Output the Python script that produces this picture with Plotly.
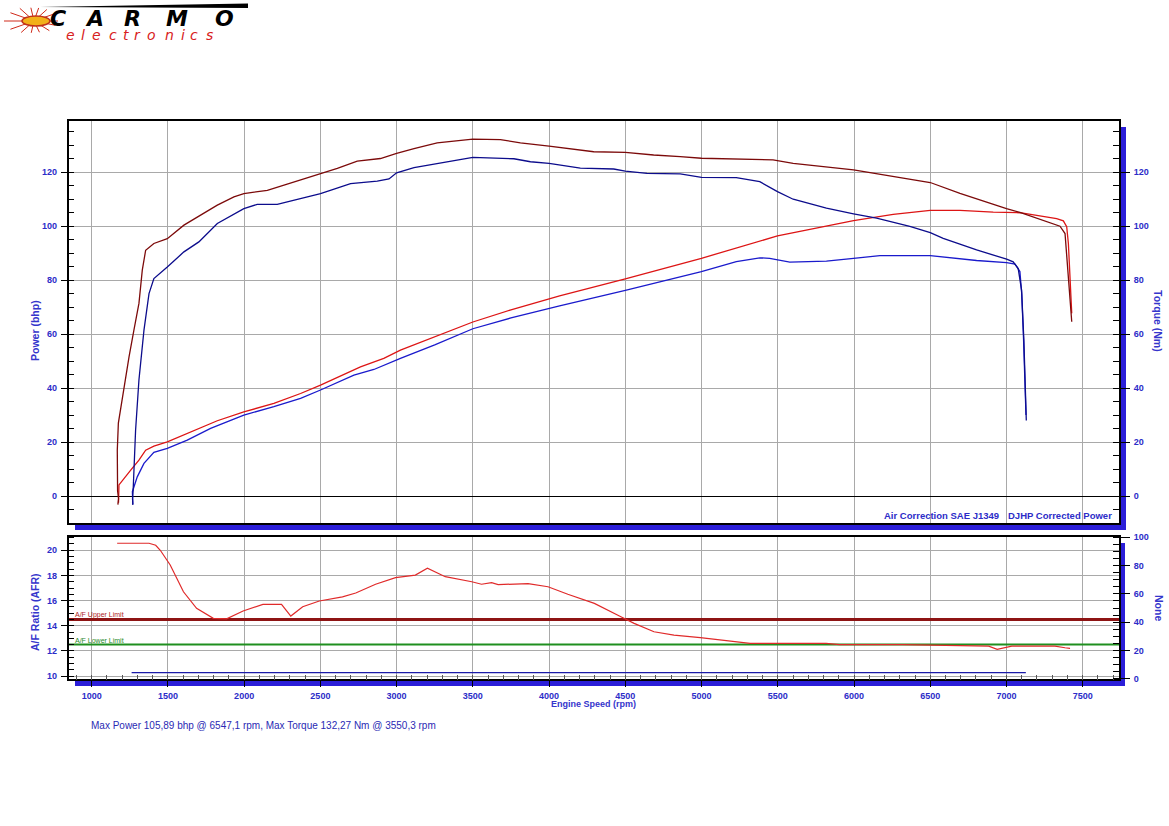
import math
import plotly.graph_objects as go

# ---------------- DATA ----------------
# Corrected torque (dark red) - rpm / Nm
rpm_torque_red = [1172, 1176, 1170, 1168, 1168, 1175, 1212, 1245, 1277, 1310, 1332, 1354, 1408, 1496, 1605,
                  1714, 1824, 1933, 1998, 2152, 2326, 2501, 2611, 2742, 2894, 3000, 3114, 3266, 3500, 3681,
                  3812, 4000, 4293, 4500, 4686, 4860, 5000, 5469, 5601, 5997, 6257, 6500, 6695, 6870, 7000,
                  7088, 7200, 7351, 7384, 7406, 7428]
torque_red = [-3.2, -1.0, 2.0, 8.0, 17.0, 27.0, 40.5, 51.6, 61.5, 71.4, 83.7, 91.1, 93.6, 95.4, 100.4,
              104.1, 107.8, 110.9, 112.1, 113.3, 116.4, 119.5, 121.4, 124.1, 125.1, 127.0, 128.8, 130.9, 132.3, 132.1,
              130.9, 129.7, 127.6, 127.4, 126.4, 125.8, 125.2, 124.6, 123.3, 120.9, 118.4, 116.2, 112.2, 108.8, 106.5,
              105.1, 103.0, 100.0, 97.3, 82.5, 64.6]

# Torque (blue)
rpm_torque_blue = [1270, 1268, 1272, 1288, 1310, 1343, 1376, 1408, 1496, 1605, 1703, 1824, 1998, 2086, 2217,
                   2326, 2501, 2698, 2873, 2950, 3000, 3114, 3332, 3500, 3769, 3878, 4000, 4205, 4424, 4500,
                   4642, 4860, 5000, 5228, 5382, 5498, 5601, 5819, 5997, 6148, 6366, 6500, 6585, 6804, 7001,
                   7044, 7077, 7099, 7114, 7125, 7130]
torque_blue = [-3.3, -1.0, 2.2, 24.4, 43.0, 61.5, 75.0, 80.6, 84.9, 90.5, 94.2, 101.0, 106.5, 108.1, 108.1,
               109.6, 112.1, 115.8, 116.7, 117.5, 119.8, 121.7, 123.9, 125.5, 125.0, 123.9, 123.3, 121.5, 121.2, 120.4,
               119.6, 119.4, 118.1, 118.0, 116.5, 112.8, 110.0, 106.7, 104.6, 103.0, 99.9, 97.6, 95.5, 91.2, 87.8,
               86.8, 84.3, 76.3, 57.8, 40.0, 28.0]

# Corrected power (red) - rpm / bhp
rpm_power_red = [1176, 1178, 1179, 1256, 1310, 1354, 1408, 1496, 1605, 1714, 1824, 1998, 2195, 2370, 2501,
                 2763, 2916, 3025, 3250, 3500, 3750, 4069, 4500, 4999, 5498, 5997, 6257, 6500, 6695, 6913,
                 7088, 7200, 7329, 7373, 7395, 7406, 7417, 7428]
power_red = [-2.5, 0.4, 4.1, 9.6, 13.3, 17.0, 18.5, 20.1, 22.6, 25.1, 27.9, 31.2, 34.3, 38.0, 41.1,
             47.9, 51.0, 54.1, 59.0, 64.5, 69.0, 74.2, 80.5, 88.1, 96.4, 102.1, 104.4, 105.9, 105.9, 105.2,
             105.0, 104.0, 102.8, 102.0, 99.8, 93.6, 82.5, 67.7]

# Power (blue)
rpm_power_blue = [1270, 1267, 1299, 1343, 1408, 1496, 1627, 1780, 1998, 2195, 2370, 2501, 2720, 2851, 3025,
                  3250, 3500, 3750, 4069, 4500, 4999, 5228, 5382, 5447, 5579, 5819, 5997, 6170, 6500, 6585,
                  6804, 7001, 7056, 7088, 7100, 7112, 7122, 7128]
power_blue = [-3.0, 1.6, 7.1, 12.1, 16.2, 17.7, 20.7, 25.1, 30.0, 33.1, 36.2, 39.3, 44.8, 46.9, 51.0,
              56.0, 62.0, 66.0, 70.5, 76.2, 83.2, 86.9, 88.3, 88.1, 86.7, 87.1, 88.1, 89.1, 89.1, 88.6,
              87.3, 86.5, 86.0, 83.2, 75.0, 58.0, 40.0, 30.0]

# Air/fuel ratio
rpm_afr = [1167, 1376, 1420, 1450, 1515, 1602, 1688, 1798, 1885, 1993, 2123, 2245, 2306, 2384, 2493,
           2645, 2732, 2862, 2993, 3123, 3202, 3319, 3493, 3557, 3623, 3666, 3862, 3993, 4123, 4297,
           4471, 4558, 4688, 4819, 4992, 5166, 5318, 5644, 5817, 5905, 6318, 6883, 6939, 7035, 7318,
           7384, 7417]
afr = [20.56, 20.56, 20.4, 20.0, 18.83, 16.7, 15.39, 14.59, 14.55, 15.17, 15.7, 15.7, 14.77, 15.51, 15.97,
       16.3, 16.6, 17.3, 17.82, 18.03, 18.57, 17.9, 17.5, 17.3, 17.43, 17.27, 17.35, 17.1, 16.5, 15.78,
       14.72, 14.19, 13.52, 13.26, 13.05, 12.78, 12.6, 12.6, 12.6, 12.5, 12.5, 12.38, 12.12, 12.38, 12.38,
       12.25, 12.2]

AFR_UPPER_LIMIT = 14.5
AFR_LOWER_LIMIT = 12.5
rpm_aux = [1262, 7127]
aux_none = [4.4, 4.4]

RPM_RANGE = [848, 7738]
POWER_RANGE = [-10, 139]
AFR_RANGE = [9.74, 21.08]
NONE_RANGE = [-0.3, 100.3]

footer_text = "Max Power 105,89 bhp @ 6547,1 rpm, Max Torque 132,27 Nm @ 3550,3 rpm"

# ---------------- LAYOUT HELPERS ----------------
W, H = 1169, 826


def px(x):
    return x / W


def py(y):
    return 1 - y / H


BLUE_TXT = "#2c2cc8"
BAND = "#2b1ed8"
GRID = "#a9a9a9"
FONT = "Liberation Sans, Arial, sans-serif"
tickfont = dict(family=FONT, size=9, color=BLUE_TXT, weight="bold")

fig = go.Figure()

# top chart traces
fig.add_trace(go.Scatter(x=rpm_power_blue, y=power_blue, mode="lines",
                         line=dict(color="#1a1acc", width=1.3), xaxis="x", yaxis="y"))
fig.add_trace(go.Scatter(x=rpm_torque_blue, y=torque_blue, mode="lines",
                         line=dict(color="#0c0c8c", width=1.3), xaxis="x", yaxis="y2"))
fig.add_trace(go.Scatter(x=rpm_power_red, y=power_red, mode="lines",
                         line=dict(color="#dd1515", width=1.3), xaxis="x", yaxis="y"))
fig.add_trace(go.Scatter(x=rpm_torque_red, y=torque_red, mode="lines",
                         line=dict(color="#7c0a0a", width=1.3), xaxis="x", yaxis="y2"))

# bottom chart traces
fig.add_trace(go.Scatter(x=RPM_RANGE, y=[AFR_UPPER_LIMIT] * 2, mode="lines",
                         line=dict(color="#8e1414", width=3), xaxis="x2", yaxis="y3"))
fig.add_trace(go.Scatter(x=RPM_RANGE, y=[AFR_LOWER_LIMIT] * 2, mode="lines",
                         line=dict(color="#1f8f1f", width=2), xaxis="x2", yaxis="y3"))
fig.add_trace(go.Scatter(x=rpm_afr, y=afr, mode="lines",
                         line=dict(color="#e02a2a", width=1.2), xaxis="x2", yaxis="y3"))
fig.add_trace(go.Scatter(x=rpm_aux, y=aux_none, mode="lines",
                         line=dict(color="#1a1aa8", width=1.2), xaxis="x2", yaxis="y4"))

common_x = dict(range=RPM_RANGE, tick0=1000, dtick=500, showgrid=True, gridcolor=GRID, gridwidth=1,
                zeroline=False, showline=True, mirror=True, linecolor="black", linewidth=1.5,
                automargin=False, domain=[px(68.5), px(1119)])

fig.update_layout(
    template="none",
    width=W, height=H,
    margin=dict(l=0, r=0, t=0, b=0, pad=0),
    paper_bgcolor="white", plot_bgcolor="white",
    showlegend=False,
    font=dict(family=FONT, color=BLUE_TXT),
    xaxis=dict(**common_x, anchor="y", showticklabels=False, ticks=""),
    yaxis=dict(domain=[py(523), py(121)], range=POWER_RANGE, tick0=0, dtick=20, anchor="x",
               ticks="outside", ticklen=6, tickcolor="black", tickwidth=1,
               minor=dict(tick0=0, dtick=5, ticks="inside", ticklen=6, tickcolor="black", showgrid=False),
               showgrid=True, gridcolor=GRID, zeroline=True, zerolinecolor="black", zerolinewidth=1.2,
               showline=True, mirror=True, linecolor="black", linewidth=1.5,
               tickfont=tickfont, automargin=False, ticklabelstandoff=2),
    yaxis2=dict(overlaying="y", side="right", anchor="x", range=POWER_RANGE, tick0=0, dtick=20,
                ticks="outside", ticklen=10, tickcolor="black",
                minor=dict(tick0=0, dtick=5, ticks="inside", ticklen=6, tickcolor="black", showgrid=False),
                showgrid=False, zeroline=False, showline=False, tickfont=tickfont, automargin=False,
                ticklabelstandoff=2),
    xaxis2=dict(**common_x, anchor="y3", ticks="outside", ticklen=6, tickcolor="black",
                minor=dict(dtick=100, ticks="inside", ticklen=5, tickcolor="#555555", showgrid=False),
                tickfont=tickfont, ticklabelstandoff=1),
    yaxis3=dict(domain=[py(679.3), py(536.7)], range=AFR_RANGE, tick0=10, dtick=2, anchor="x2",
                ticks="outside", ticklen=6, tickcolor="black",
                minor=dict(tick0=10, dtick=0.5, ticks="inside", ticklen=6, tickcolor="black", showgrid=False),
                showgrid=True, gridcolor=GRID, zeroline=False,
                showline=True, mirror=True, linecolor="black", linewidth=1.5,
                tickfont=tickfont, automargin=False, ticklabelstandoff=2),
    yaxis4=dict(overlaying="y3", side="right", anchor="x2", range=NONE_RANGE, tick0=0, dtick=20,
                ticks="outside", ticklen=10, tickcolor="black",
                minor=dict(tick0=0, dtick=5, ticks="inside", ticklen=6, tickcolor="black", showgrid=False),
                showgrid=False, zeroline=False, showline=False, tickfont=tickfont, automargin=False,
                ticklabelstandoff=2),
)

shapes = []
# blue 3D bands
for x0, x1, y0, y1 in [(75, 1126, 523.5, 530), (1119.5, 1126, 127, 530),
                       (75, 1125, 680, 686), (1119.5, 1125, 543, 686)]:
    shapes.append(dict(type="rect", xref="paper", yref="paper", x0=px(x0), x1=px(x1), y0=py(y1), y1=py(y0),
                       fillcolor=BAND, line=dict(width=0), layer="below"))

# logo decorations
cx, cy = 34, 21
for ang, ln in [(0, 24), (25, 22), (50, 20), (75, 18), (100, 18), (130, 22), (155, 26), (180, 30),
                (205, 26), (230, 20), (260, 16), (290, 16), (320, 20), (345, 22)]:
    a = math.radians(ang)
    shapes.append(dict(type="line", xref="paper", yref="paper", x0=px(cx), y0=py(cy),
                       x1=px(cx + ln * math.cos(a)), y1=py(cy - ln * 0.75 * math.sin(a)),
                       line=dict(color="#d02a1a", width=1), layer="above"))
shapes.append(dict(type="circle", xref="paper", yref="paper", x0=px(22), x1=px(50), y0=py(26), y1=py(16),
                   fillcolor="#f2b01a", line=dict(color="#c0301a", width=1.5)))
wedge = "M {:.5f},{:.5f} L {:.5f},{:.5f} L {:.5f},{:.5f} Z".format(px(40), py(7), px(248), py(3.5), px(248), py(8))
shapes.append(dict(type="path", xref="paper", yref="paper", path=wedge, fillcolor="black", line=dict(width=0)))
fig.update_layout(shapes=shapes)

ann = []
ttl = dict(family=FONT, size=10.5, color="#3535cc", weight="bold")
ann.append(dict(text="Power (bhp)", x=px(35), y=py(331), textangle=-90, font=ttl))
ann.append(dict(text="Torque (Nm)", x=px(1158), y=py(321), textangle=90, font=ttl))
ann.append(dict(text="A/F Ratio (AFR)", x=px(35), y=py(612), textangle=-90, font=ttl))
ann.append(dict(text="None", x=px(1159), y=py(608), textangle=90, font=ttl))
ann.append(dict(text="Engine Speed (rpm)", x=px(593), y=py(704),
                font=dict(family=FONT, size=9, color="#3535cc", weight="bold")))
ann.append(dict(text=footer_text, x=px(89), y=py(725), xanchor="left",
                font=dict(family=FONT, size=10, color="#2a2ab4")))
small = dict(family=FONT, size=9.5, color="#2c2cc8", weight="bold")
ann.append(dict(text="Air Correction SAE J1349", x=px(1001), y=py(515), xanchor="right", font=small))
ann.append(dict(text="DJHP Corrected Power", x=px(1114), y=py(515), xanchor="right", font=small))
ann.append(dict(text="A/F Upper Limit", x=px(73), y=py(614.5), xanchor="left",
                font=dict(family=FONT, size=7, color="#b01e1e")))
ann.append(dict(text="A/F Lower Limit", x=px(73), y=py(640.5), xanchor="left",
                font=dict(family=FONT, size=7, color="#1f8a1f")))

# logo text
logo_font = dict(family="DejaVu Sans", size=22, color="black", weight="bold", style="italic")
for ch, cxl in zip("CARMO", [58, 94, 132, 177, 224]):
    ann.append(dict(text=ch, x=px(cxl), y=py(18), font=logo_font))
word = "electronics"
ems = [0.615, 0.278, 0.615, 0.55, 0.392, 0.411, 0.612, 0.634, 0.278, 0.55, 0.521]
scale = 155 / sum(ems)
pos = 62
for ch, e in zip(word, ems):
    ann.append(dict(text=ch, x=px(pos + e * scale / 2), y=py(35),
                    font=dict(family="DejaVu Sans", size=14, color="#d82020", style="italic")))
    pos += e * scale

for a in ann:
    a.setdefault("xref", "paper")
    a.setdefault("yref", "paper")
    a.setdefault("showarrow", False)
    a.setdefault("xanchor", "center")
    a.setdefault("yanchor", "middle")
fig.update_layout(annotations=ann)

fig.write_html("out.html", config={"displayModeBar": False},
               post_script="document.body.style.margin='0px';document.body.style.overflow='hidden';")
